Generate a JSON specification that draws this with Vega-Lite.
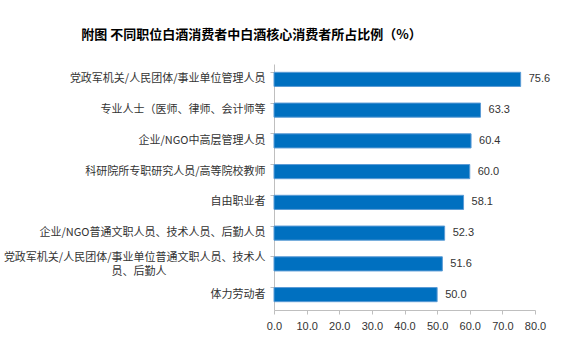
{
  "$schema": "https://vega.github.io/schema/vega-lite/v6.json",
  "width": 261,
  "height": 246,
  "autosize": {"type": "none"},
  "padding": {"left": 274, "top": 64, "right": 41, "bottom": 43},
  "background": "white",
  "config": {"view": {"stroke": null}, "font": "Noto Sans CJK SC"},
  "title": {
    "text": "附图 不同职位白酒消费者中白酒核心消费者所占比例（%）",
    "anchor": "middle",
    "dx": -153,
    "offset": 22,
    "fontSize": 13,
    "fontWeight": "bold",
    "color": "#000000",
    "font": "Noto Sans CJK SC"
  },
  "data": {
    "values": [
      {"job": "党政军机关/人民团体/事业单位管理人员", "value": 75.6},
      {"job": "专业人士（医师、律师、会计师等", "value": 63.3},
      {"job": "企业/NGO中高层管理人员", "value": 60.4},
      {"job": "科研院所专职研究人员/高等院校教师", "value": 60.0},
      {"job": "自由职业者", "value": 58.1},
      {"job": "企业/NGO普通文职人员、技术人员、后勤人员", "value": 52.3},
      {"job": "党政军机关/人民团体/事业单位普通文职人员、技术人员、后勤人", "value": 51.6},
      {"job": "体力劳动者", "value": 50.0}
    ]
  },
  "encoding": {
    "y": {
      "field": "job",
      "type": "nominal",
      "sort": null,
      "title": null,
      "scale": {"paddingInner": 0.54, "paddingOuter": 0.27},
      "axis": {
        "bandPosition": 0,
        "domainColor": "#bfbfbf",
        "tickColor": "#bfbfbf",
        "tickSize": 4,
        "labelPadding": 5,
        "labelFontSize": 11,
        "labelColor": "#333333",
        "labelFont": "Noto Sans CJK SC",
        "labelLimit": 300,
        "labelLineHeight": 14,
        "labelOverlap": false,
        "labelOffset": {"condition": {"test": "datum.value == '党政军机关/人民团体/事业单位普通文职人员、技术人员、后勤人'", "value": -6}, "value": 0},
        "labelExpr": "datum.value == '党政军机关/人民团体/事业单位普通文职人员、技术人员、后勤人' ? ['党政军机关/人民团体/事业单位普通文职人员、技术人', '员、后勤人　　　　　　　　　\u200b'] : datum.value"
      }
    },
    "x": {
      "field": "value",
      "type": "quantitative",
      "title": null,
      "scale": {"domain": [0, 80], "nice": false},
      "axis": {
        "values": [0, 10, 20, 30, 40, 50, 60, 70, 80],
        "format": ".1f",
        "grid": false,
        "labelFlush": false,
        "domainColor": "#bfbfbf",
        "tickColor": "#bfbfbf",
        "tickSize": 4,
        "labelFontSize": 11,
        "labelColor": "#333333",
        "labelPadding": 6,
        "labelFont": "Liberation Sans"
      }
    }
  },
  "layer": [
    {
      "mark": {"type": "bar", "color": "#0070C0", "stroke": "#5b9bd5", "strokeWidth": 1}
    },
    {
      "mark": {"type": "text", "align": "left", "dx": 8, "fontSize": 11, "color": "#333333", "font": "Liberation Sans"},
      "encoding": {"text": {"field": "value", "type": "quantitative", "format": ".1f"}}
    }
  ]
}
